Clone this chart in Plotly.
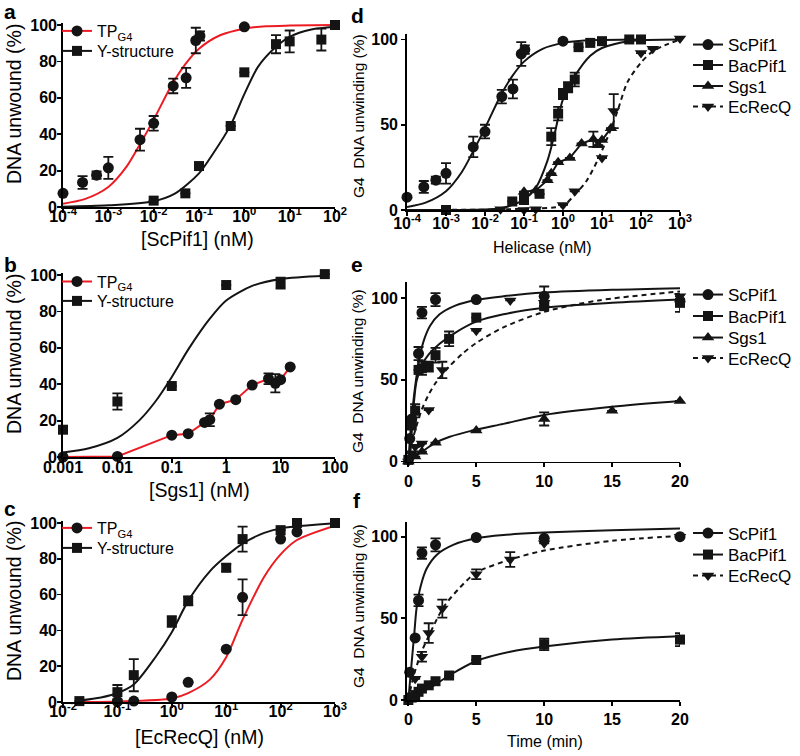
import plotly.graph_objects as go

FONT = "Liberation Sans, Arial, Helvetica, sans-serif"
RED = "#ec1c24"
BLK = "#141414"

# ---------------- data: panel a (ScPif1) ----------------
a_tp_x = [1e-4, 2.7e-4, 5.5e-4, 1e-3, 5e-3, 1e-2, 2.7e-2, 5.2e-2, 8.5e-2, 0.105, 1]
a_tp_y = [7.5, 13.5, 17.5, 21.5, 37, 46, 66.5, 71, 91.5, 94, 99]
a_tp_err = [None, 3.5, 2, 6, 6, 4, 4, 5.5, 7, 2.5, None]
a_y_x = [1e-2, 5e-2, 0.1, 0.5, 1, 5, 10, 50, 100]
a_y_y = [3.5, 7.5, 22.5, 44.5, 74, 89.5, 91, 92, 100]
a_y_err = [None, None, None, None, None, 5, 6, 6, None]
a_tp_fit_x = [1e-4, 3e-4, 1e-3, 2.5e-3, 5e-3, 1e-2, 2.5e-2, 5e-2, 0.1, 0.3, 1, 3, 10, 100]
a_tp_fit_y = [1.8, 4.3, 11, 22, 34.5, 48, 67, 78.5, 87, 94.5, 98, 99.3, 99.7, 100]
a_y_fit_x = [1e-4, 1e-3, 1e-2, 3e-2, 0.1, 0.2, 0.5, 1, 2, 5, 10, 30, 100]
a_y_fit_y = [0.2, 0.9, 3.2, 7.5, 18.5, 29, 45, 62, 77, 88, 93.5, 97.5, 99]

# ---------------- data: panel b (Sgs1) ----------------
b_tp_x = [0.001, 0.01, 0.1, 0.2, 0.4, 0.5, 0.75, 1.5, 3, 6, 8, 10, 15]
b_tp_y = [0, 0.3, 12, 12.8, 19, 20.5, 29, 31.5, 39.5, 43, 40.5, 42.5, 49.5]
b_tp_err = [None, None, None, None, None, 3.5, None, None, None, 3, 5, None, None]
b_y_x = [0.001, 0.01, 0.1, 1, 10, 65]
b_y_y = [15, 30.5, 39, 94.5, 95.5, 100.5]
b_y_err = [None, 4.5, None, None, 3, None]
b_y_fit_x = [0.001, 0.003, 0.01, 0.025, 0.05, 0.1, 0.2, 0.5, 1, 3, 10, 65]
b_y_fit_y = [2.5, 4.8, 10.5, 20, 30.5, 44, 59, 76, 86, 94, 97.8, 99.6]

# ---------------- data: panel c (EcRecQ) ----------------
c_y_x = [0.02, 0.1, 0.2, 1, 2, 10, 20, 100, 200, 1000]
c_y_y = [0.5, 5.5, 15, 45, 56.5, 75, 91, 96, 100, 100]
c_y_err = [None, 4, 9, 3, 2.5, 2, 7, None, None, None]
c_tp_x = [0.1, 0.2, 1, 2, 10, 20, 100, 200]
c_tp_y = [0.3, 0.5, 2.8, 11, 29.5, 58.5, 91, 95]
c_tp_err = [None, None, None, None, None, 10, None, None]
c_y_fit_x = [0.02, 0.05, 0.1, 0.2, 0.5, 1, 2, 5, 10, 20, 50, 100, 1000]
c_y_fit_y = [0.8, 2.5, 5, 9.8, 25, 39, 56.5, 73, 81.5, 88.5, 94.5, 97, 99.8]
c_tp_fit_x = [0.02, 0.1, 1, 2, 5, 10, 20, 50, 100, 200, 1000]
c_tp_fit_y = [0, 0.3, 2, 5, 12.5, 25, 46, 70, 82.5, 90.5, 98.5]

# ---------------- data: panel d (helicase titration, G4) ----------------
d_bac_x = [0.001, 0.05, 0.1, 0.25, 0.5, 0.75, 1, 1.35, 2, 2.5, 5, 10, 50, 100]
d_bac_y = [0, 5, 6.5, 9.5, 43, 56.5, 68, 72, 76.5, 95.5, 98, 99, 100, 100]
d_bac_err = [None, None, 3, None, 5, 4, 3, 3, 4, None, None, None, None, None]
d_sgs_x = [0.1, 0.2, 0.4, 0.5, 0.75, 1.5, 3, 6, 8, 10, 17]
d_sgs_y = [10.7, 11.5, 17.5, 21.5, 28, 30.5, 39, 41.5, 38, 41, 48]
d_sgs_err = [None, None, None, None, None, None, None, 4.5, None, None, None]
d_ec_x = [0.025, 0.1, 0.2, 1, 2, 10, 20, 100, 200, 1000]
d_ec_y = [0.5, 0, 0.5, 3, 11, 30.5, 58, 92, 94.5, 100.5]
d_ec_err = [None, None, None, None, None, None, 10, None, None, None]
d_bac_fit_x = [1e-4, 1e-2, 0.025, 0.05, 0.1, 0.2, 0.4, 0.6, 1, 2, 5, 10, 50, 1000]
d_bac_fit_y = [0, 0.3, 1, 2.9, 6, 13, 29, 44, 65, 78.5, 90.5, 95, 99, 100]
d_ec_fit_x = [1e-4, 0.025, 0.1, 1, 2, 4, 8, 16, 25, 45, 100, 200, 400, 1000]
d_ec_fit_y = [0, 0.3, 0.8, 2.6, 9, 17, 30, 46, 58, 75, 86.5, 93, 96.5, 100]

# ---------------- data: panel e (time course) ----------------
e_sc_t = [0.1, 0.25, 0.75, 1, 2, 5, 10, 20]
e_sc_y = [14, 26, 66, 91, 99, 99, 101, 98]
e_sc_err = [None, None, 4, 3.5, 4, None, 6, None]
e_bac_t = [0, 0.25, 0.5, 0.75, 1, 1.5, 2, 3, 5, 10, 20]
e_bac_y = [1, 22, 31, 56, 57, 58, 65, 75, 88, 95, 97]
e_bac_err = [None, None, 4, None, 4, 3, 4.5, 4.5, None, None, 5.5]
e_sgs_t = [0, 0.5, 1, 2, 5, 10, 15, 20]
e_sgs_y = [0, 3, 6, 11.5, 19, 26, 31, 37]
e_sgs_err = [None, None, None, None, None, 4, None, None]
e_ec_t = [0, 0.25, 0.5, 1, 1.5, 2.5, 5, 7.5, 10, 20]
e_ec_y = [0, 5, 9, 11, 31.5, 56, 80, 98.5, 97, 101]
e_ec_err = [None, None, None, None, None, 5, None, None, None, None]
e_sc_fit_t = [0, 0.1, 0.25, 0.5, 0.75, 1.1, 1.6, 2.3, 3.5, 5, 7, 10, 15, 20]
e_sc_fit_y = [0, 12, 27, 46, 60, 73, 83, 90, 95.5, 98.8, 101, 103.3, 105, 106]
e_bac_fit_t = [0, 0.2, 0.4, 0.6, 1, 1.5, 2.3, 3.5, 5, 7, 10, 15, 20]
e_bac_fit_y = [0, 13, 35, 49, 59, 65.5, 72, 79, 85.5, 90, 94, 97, 99]
e_sgs_fit_t = [0, 0.5, 1, 2, 3, 5, 7, 10, 15, 20]
e_sgs_fit_y = [0, 3.2, 6, 11.5, 15, 19.5, 23, 28.5, 33.5, 37]
e_ec_fit_t = [0, 0.25, 0.5, 1, 1.5, 2, 3, 4, 5, 7, 10, 14, 20]
e_ec_fit_y = [0, 11, 19, 32, 41, 48, 58, 66, 72.5, 82, 91.5, 98.5, 104]

# ---------------- data: panel f (time course) ----------------
f_sc_t = [0.1, 0.5, 0.75, 1, 2, 5, 10, 20]
f_sc_y = [17, 38, 61, 90, 95, 99.5, 99, 100]
f_sc_err = [None, None, 3.5, 3.5, 4, None, None, None]
f_bac_t = [0, 0.25, 0.5, 0.75, 1, 1.5, 2, 3, 5, 10, 20]
f_bac_y = [0, 1.5, 3, 5, 7, 9, 11.5, 15, 24.5, 34, 37]
f_bac_err = [None, None, None, None, None, None, None, None, None, 3.5, 4]
f_ec_t = [0.5, 1, 1.5, 2.5, 5, 7.5, 10, 20]
f_ec_y = [13, 26.5, 41, 56, 77, 86, 96, 100]
f_ec_err = [None, 3, 6, 5.5, 3, 4.5, None, None]
f_sc_fit_t = [0, 0.25, 0.45, 0.6, 0.9, 1.35, 2.1, 3.3, 5, 7, 10, 15, 20]
f_sc_fit_y = [0, 23.5, 42, 56, 69.5, 80.5, 89, 95, 99, 101, 102.5, 104, 105]
f_bac_fit_t = [0, 0.5, 1, 1.75, 3, 5, 7.5, 10, 15, 20]
f_bac_fit_y = [0, 2.5, 5, 8.2, 15, 23.9, 29.6, 32.8, 37, 39]
f_ec_fit_t = [0, 0.25, 0.5, 1, 1.6, 2.6, 3.7, 5, 7.5, 10, 15, 20]
f_ec_fit_y = [0, 10, 18, 30, 41, 57, 68, 78, 86, 91.5, 97.5, 100.5]

# ---------------- tick labels ----------------
pow_vals = [10.0 ** k for k in range(-4, 4)]
pow_text = ["10<sup>%d</sup>" % k for k in range(-4, 4)]
b_tick_vals = [0.001, 0.01, 0.1, 1, 10, 100]
b_tick_text = ["0.001", "0.01", "0.1", "1", "10", "100"]
t_tick_vals = [0, 5, 10, 15, 20]
t_tick_text = ["0", "5", "10", "15", "20"]

W, H = 800, 756
fig = go.Figure()


def px(x):
    return x / W


def py(y):
    return 1 - y / H


def curve(ax, x, y, color=BLK, dash="solid", shape="spline"):
    fig.add_trace(go.Scatter(
        x=x, y=y, mode="lines", xaxis="x" + ax, yaxis="y" + ax,
        line=dict(color=color, width=2, dash=dash, shape=shape, smoothing=0.8),
        showlegend=False, hoverinfo="skip", cliponaxis=False))


def points(ax, x, y, err, symbol, size=11):
    fig.add_trace(go.Scatter(
        x=x, y=y, mode="markers", xaxis="x" + ax, yaxis="y" + ax,
        marker=dict(symbol=symbol, size=size, color=BLK, line=dict(width=0)),
        error_y=dict(type="data", array=err, visible=True, color=BLK,
                     thickness=1.8, width=5),
        showlegend=False, cliponaxis=False))


legends = {}


def legend_entry(ax, name, symbol, lx, ly, fsize, color=BLK, dash="solid", size=11):
    key = "legend" if not legends else "legend%d" % (len(legends) + 1)
    legends[key] = dict(bgcolor="rgba(0,0,0,0)", borderwidth=0, xanchor="left",
                        yanchor="middle", itemwidth=30, x=px(lx), y=py(ly),
                        font=dict(family=FONT, size=fsize, color="black"))
    fig.add_trace(go.Scatter(
        x=[None], y=[None], mode="lines+markers", name=name,
        xaxis="x" + ax, yaxis="y" + ax, legend=key,
        line=dict(color=color, width=2, dash=dash),
        marker=dict(symbol=symbol, size=size, color=BLK),
        showlegend=True))


LX1, LX2 = 57, 688

# panel a
curve("", a_tp_fit_x, a_tp_fit_y, RED)
curve("", a_y_fit_x, a_y_fit_y)
points("", a_tp_x, a_tp_y, a_tp_err, "circle")
points("", a_y_x, a_y_y, a_y_err, "square", 10)
legend_entry("", "TP<sub>G4</sub>", "circle", LX1, 31, 16, RED)
legend_entry("", "Y-structure", "square", LX1, 51, 16, size=10)

# panel b
curve("2", b_y_fit_x, b_y_fit_y)
curve("2", b_tp_x, b_tp_y, RED, shape="linear")
points("2", b_tp_x, b_tp_y, b_tp_err, "circle")
points("2", b_y_x, b_y_y, b_y_err, "square", 10)
legend_entry("2", "TP<sub>G4</sub>", "circle", LX1, 281.5, 16, RED)
legend_entry("2", "Y-structure", "square", LX1, 301, 16, size=10)

# panel c
curve("3", c_y_fit_x, c_y_fit_y)
curve("3", c_tp_fit_x, c_tp_fit_y, RED)
points("3", c_tp_x, c_tp_y, c_tp_err, "circle")
points("3", c_y_x, c_y_y, c_y_err, "square", 10)
legend_entry("3", "TP<sub>G4</sub>", "circle", LX1, 528, 16, RED)
legend_entry("3", "Y-structure", "square", LX1, 548, 16, size=10)

# panel d
DASH = "5px,4px"
curve("4", a_tp_fit_x, a_tp_fit_y)
curve("4", d_bac_fit_x, d_bac_fit_y)
curve("4", d_sgs_x, d_sgs_y, shape="linear")
curve("4", d_ec_fit_x, d_ec_fit_y, dash=DASH)
points("4", a_tp_x, a_tp_y, a_tp_err, "circle")
points("4", d_bac_x, d_bac_y, d_bac_err, "square", 10)
points("4", d_sgs_x, d_sgs_y, d_sgs_err, "triangle-up")
points("4", d_ec_x, d_ec_y, d_ec_err, "triangle-down")
legend_entry("4", "ScPif1", "circle", LX2, 45, 17)
legend_entry("4", "BacPif1", "square", LX2, 65.5, 17, size=10)
legend_entry("4", "Sgs1", "triangle-up", LX2, 86.5, 17)
legend_entry("4", "EcRecQ", "triangle-down", LX2, 107, 17, dash=DASH)

# panel e
curve("5", e_sc_fit_t, e_sc_fit_y)
curve("5", e_bac_fit_t, e_bac_fit_y)
curve("5", e_sgs_fit_t, e_sgs_fit_y)
curve("5", e_ec_fit_t, e_ec_fit_y, dash=DASH)
points("5", e_sc_t, e_sc_y, e_sc_err, "circle")
points("5", e_bac_t, e_bac_y, e_bac_err, "square", 10)
points("5", e_sgs_t, e_sgs_y, e_sgs_err, "triangle-up")
points("5", e_ec_t, e_ec_y, e_ec_err, "triangle-down")
legend_entry("5", "ScPif1", "circle", LX2, 295, 17)
legend_entry("5", "BacPif1", "square", LX2, 316.5, 17, size=10)
legend_entry("5", "Sgs1", "triangle-up", LX2, 338, 17)
legend_entry("5", "EcRecQ", "triangle-down", LX2, 358.5, 17, dash=DASH)

# panel f
curve("6", f_sc_fit_t, f_sc_fit_y)
curve("6", f_bac_fit_t, f_bac_fit_y)
curve("6", f_ec_fit_t, f_ec_fit_y, dash=DASH)
points("6", f_sc_t, f_sc_y, f_sc_err, "circle")
points("6", f_bac_t, f_bac_y, f_bac_err, "square", 10)
points("6", f_ec_t, f_ec_y, f_ec_err, "triangle-down")
legend_entry("6", "ScPif1", "circle", LX2, 533.5, 17)
legend_entry("6", "BacPif1", "square", LX2, 555, 17, size=10)
legend_entry("6", "EcRecQ", "triangle-down", LX2, 576, 17, dash=DASH)

tickfont = dict(family=FONT, size=16, color="black", weight="bold")
common = dict(showline=True, linecolor="black", linewidth=1.8, ticks="outside",
              ticklen=4, tickwidth=1.8, tickcolor="black", showgrid=False,
              zeroline=False, tickfont=tickfont, fixedrange=True, automargin=False)

# axis id, x px span, y px span (top, bottom), x type, x range, x ticks, y range, y step,
# x-label standoff, y-label standoff
panels = [
    ("", (63, 335), (23.2, 207), "log", [-4, 2], pow_vals[:7], pow_text[:7], [0, 101], 20, -10, -3),
    ("2", (63, 335), (273.2, 457), "log", [-3, 2], b_tick_vals, b_tick_text, [0, 101], 20, -9, -3),
    ("3", (63, 335), (521.2, 702), "log", [-2, 3], pow_vals[2:], pow_text[2:], [0, 101], 20, -10, -3),
    ("4", (407, 680), (33.5, 210), "log", [-4, 3], pow_vals, pow_text, [0, 103.5], 50, -6, 0),
    ("5", (407, 680), (281.6, 461.5), "linear", [-0.1, 20], t_tick_vals, t_tick_text, [0, 110], 50, 0, 0),
    ("6", (407, 680), (522, 700), "linear", [-0.1, 20], t_tick_vals, t_tick_text, [0, 109], 50, 0, 0),
]

layout = dict(width=W, height=H,
              margin=dict(l=0, r=0, t=0, b=0, pad=0, autoexpand=False),
              paper_bgcolor="white", plot_bgcolor="white",
              font=dict(family=FONT, color="black"), hovermode=False)

for ax, (xl, xr), (yt, yb), xtype, xrng, tv, tt, yrng, dtick, xso, yso in panels:
    yv = list(range(0, 101, dtick))
    layout["xaxis" + ax] = dict(common, domain=[px(xl), px(xr)], type=xtype, range=xrng,
                                tickmode="array", tickvals=tv, ticktext=tt,
                                anchor="y" + ax, ticklabelstandoff=xso)
    layout["yaxis" + ax] = dict(common, domain=[py(yb), py(yt)], range=yrng,
                                tickmode="array", tickvals=yv,
                                ticktext=[str(v) for v in yv], anchor="x" + ax,
                                ticklabelstandoff=yso)

layout.update(legends)

ann = []


def text(x, y, s, size, angle=0, bold=False):
    ann.append(dict(x=px(x), y=py(y), xref="paper", yref="paper", text=s,
                    showarrow=False, textangle=angle, xanchor="center",
                    yanchor="middle",
                    font=dict(family=FONT, size=size, color="black",
                              weight="bold" if bold else "normal")))


for letter, lx, ly in [("a", 10, 12), ("b", 10, 264), ("c", 10, 508),
                       ("d", 357, 15), ("e", 357, 265), ("f", 357, 500)]:
    text(lx, ly, letter, 21, bold=True)

text(14, 104, "DNA unwound (%)", 19.5, -90)
text(14, 354, "DNA unwound (%)", 19.5, -90)
text(14, 601, "DNA unwound (%)", 19.5, -90)
text(197, 239, "[ScPif1] (nM)", 19.5)
text(199, 490, "[Sgs1] (nM)", 19.5)
text(199, 737, "[EcRecQ] (nM)", 19.5)
text(358, 116, "G4  DNA unwinding (%)", 15.5, -90)
text(358, 371, "G4  DNA unwinding (%)", 15.5, -90)
text(358, 606, "G4  DNA unwinding (%)", 15.5, -90)
text(542, 247, "Helicase (nM)", 16)
text(545, 741, "Time (min)", 16)

layout["annotations"] = ann
fig.update_layout(**layout)
# remove the browser's default 8 px page margin so the figure sits at the window corner
fig.write_html("out.html",
               config={"displayModeBar": False, "staticPlot": True},
               post_script="document.body.style.margin='0px';"
                           "document.body.style.padding='0px';")
